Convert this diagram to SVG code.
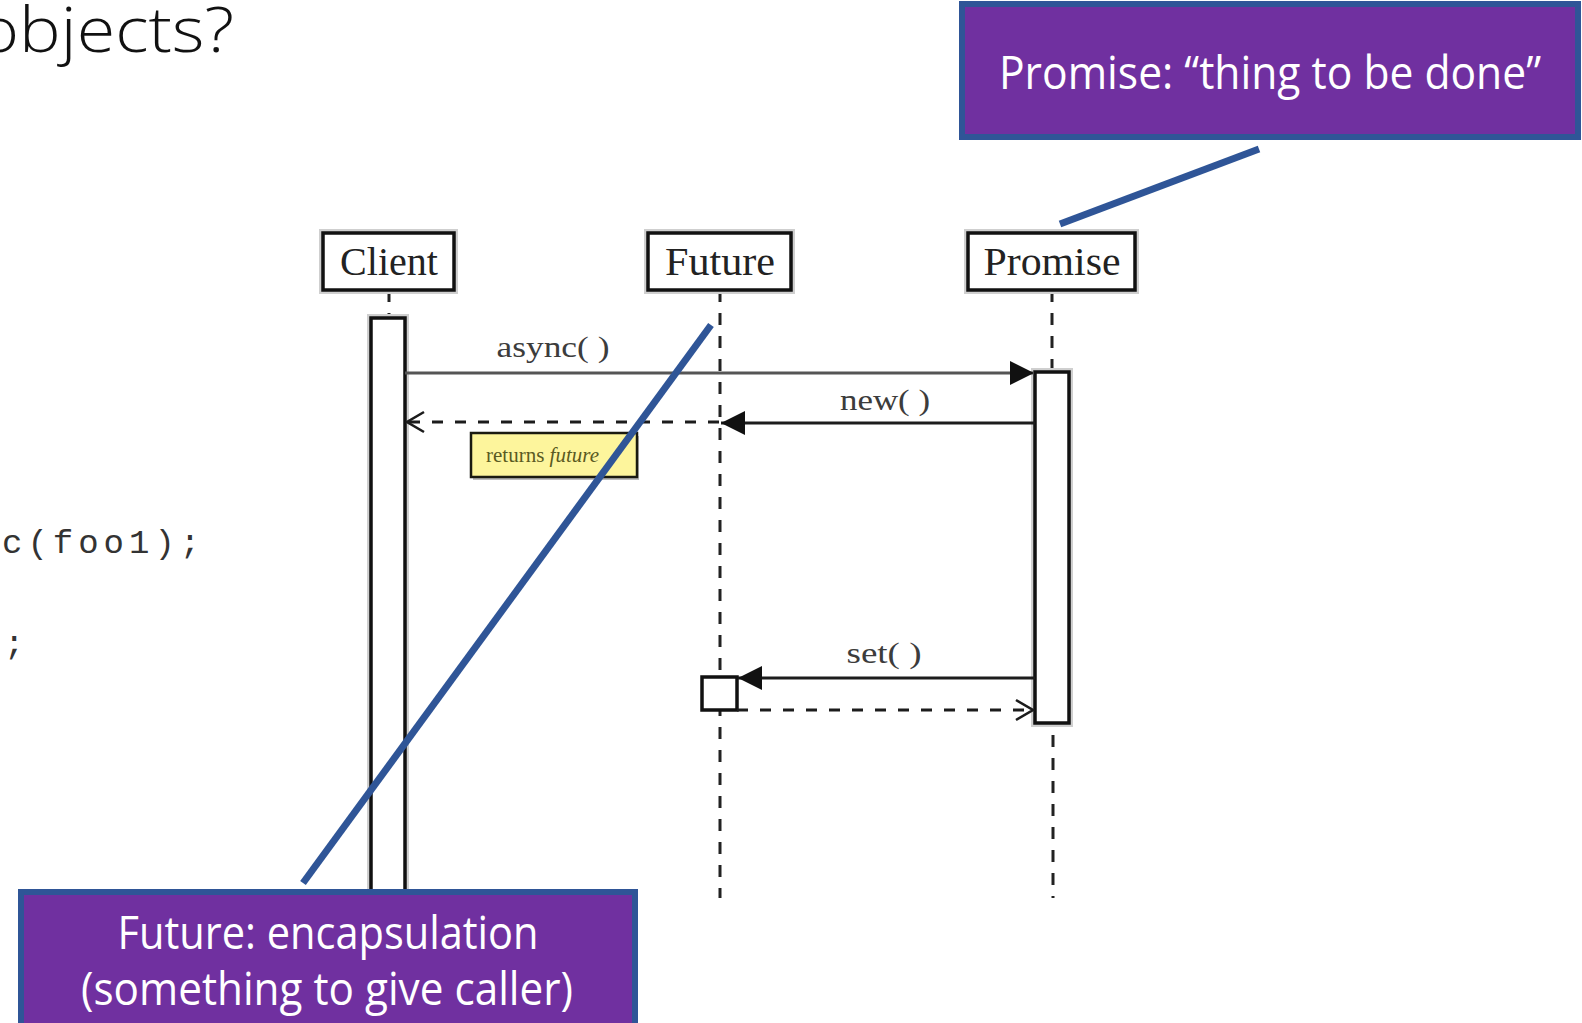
<svg xmlns="http://www.w3.org/2000/svg" width="1582" height="1023" viewBox="0 0 1582 1023">
  <style>
    .halo { fill: none; stroke: #cfcfcf; stroke-width: 8; }
    .box { fill: #ffffff; stroke: #111111; stroke-width: 3.5; }
    .hdr { font-family: "Liberation Serif", "DejaVu Serif", serif; font-size: 40px; fill: #222222; }
    .life { fill: none; stroke: #222222; stroke-width: 3; stroke-dasharray: 12 11; }
    .msg { fill: none; stroke: #1c1c1c; stroke-width: 2.8; }
    .msg.call1 { stroke: #555555; stroke-width: 3.2; }
    .ret { fill: none; stroke: #1c1c1c; stroke-width: 2.8; stroke-dasharray: 11 12; }
    .lbl { font-family: "Liberation Serif", "DejaVu Serif", serif; font-size: 30px; fill: #3c3c3c; }
    .callout { fill: #7030A0; stroke: #2F5597; stroke-width: 6; }
    .ctext { font-family: "Open Sans", "Noto Sans", sans-serif; font-size: 46px; fill: #ffffff; }
    .pointer { fill: none; stroke: #2F5597; stroke-width: 7; }
    .code { font-family: "Liberation Mono", "DejaVu Sans Mono", monospace; font-size: 34px; fill: #333333; letter-spacing: 5px; }
  </style>
  <defs>
    <marker id="head" markerUnits="userSpaceOnUse" markerWidth="26" markerHeight="26" refX="24" refY="12" orient="auto" overflow="visible">
      <path d="M0,0 L24,12 L0,24 Z" fill="#111111"/>
    </marker>
    <marker id="open" markerUnits="userSpaceOnUse" markerWidth="20" markerHeight="22" refX="17" refY="10" orient="auto" overflow="visible">
      <path d="M0,0 L17,10 L0,20" fill="none" stroke="#1c1c1c" stroke-width="2.6"/>
    </marker>
  </defs>

  <rect width="1582" height="1023" fill="#ffffff"/>

  <!-- slide title, clipped at the left edge -->
  <g id="title">
    <text x="-22" y="52" font-family="Open Sans, Noto Sans, sans-serif" font-weight="300" font-size="62" fill="#111111" textLength="256" lengthAdjust="spacingAndGlyphs">objects?</text>
  </g>

  <!-- code fragment, clipped at the left edge -->
  <g id="code">
    <text class="code" x="2" y="553">c(foo1);</text>
    <text class="code" x="4" y="654">;</text>
  </g>

  <!-- Client participant -->
  <g id="client">
    <path class="life" d="M389,290 V318"/>
    <rect class="halo" x="323" y="233" width="131" height="57"/>
    <rect class="box" x="323" y="233" width="131" height="57"/>
    <text class="hdr" x="389" y="275" text-anchor="middle" textLength="98" lengthAdjust="spacingAndGlyphs">Client</text>
    <rect class="halo" x="371" y="318" width="34" height="600"/>
    <rect class="box" x="371" y="318" width="34" height="600"/>
  </g>

  <!-- Future participant -->
  <g id="future">
    <path class="life" d="M720,290 V898"/>
    <rect class="halo" x="648" y="233" width="143" height="57"/>
    <rect class="box" x="648" y="233" width="143" height="57"/>
    <text class="hdr" x="720" y="275" text-anchor="middle" textLength="110" lengthAdjust="spacingAndGlyphs">Future</text>
    <rect class="box" x="702" y="677" width="35" height="33"/>
  </g>

  <!-- Promise participant -->
  <g id="promise">
    <path class="life" d="M1052,290 V372"/>
    <path class="life" d="M1053,735 V898"/>
    <rect class="halo" x="968" y="233" width="167" height="57"/>
    <rect class="box" x="968" y="233" width="167" height="57"/>
    <text class="hdr" x="1052" y="275" text-anchor="middle" textLength="137" lengthAdjust="spacingAndGlyphs">Promise</text>
    <rect class="halo" x="1035" y="372" width="34" height="351"/>
    <rect class="box" x="1035" y="372" width="34" height="351"/>
  </g>

  <!-- messages -->
  <g id="messages">
    <path class="msg call1" d="M405,373 H1034" marker-end="url(#head)"/>
    <text class="lbl" x="553" y="357" text-anchor="middle" textLength="113" lengthAdjust="spacingAndGlyphs">async( )</text>
    <path class="msg" d="M1035,423 H721" marker-end="url(#head)"/>
    <text class="lbl" x="885" y="410" text-anchor="middle" textLength="90" lengthAdjust="spacingAndGlyphs">new( )</text>
    <path class="ret" d="M719,422 H407" marker-end="url(#open)"/>
    <path class="msg" d="M1035,678 H738" marker-end="url(#head)"/>
    <text class="lbl" x="884" y="663" text-anchor="middle" textLength="75" lengthAdjust="spacingAndGlyphs">set( )</text>
    <path class="ret" d="M737,710 H1033" marker-end="url(#open)"/>
  </g>

  <!-- note on the return -->
  <g id="note">
    <rect x="473" y="436" width="166" height="44" fill="#bdbdbd"/>
    <rect x="471" y="433" width="166" height="44" fill="#fdf59c" stroke="#1a1a10" stroke-width="2.5"/>
    <text x="486" y="462" font-family="Liberation Serif, DejaVu Serif, serif" font-size="21" fill="#5a5a22">returns <tspan font-style="italic">future</tspan></text>
  </g>

  <!-- callout pointers -->
  <g id="pointers">
    <path class="pointer" d="M711,325 L303,883"/>
    <path class="pointer" d="M1259,149 L1060,224"/>
  </g>

  <!-- Promise callout -->
  <g id="callout-promise">
    <rect class="callout" x="962" y="4" width="616" height="133"/>
    <text class="ctext" x="1270" y="89" text-anchor="middle" textLength="542" lengthAdjust="spacingAndGlyphs">Promise: “thing to be done”</text>
  </g>

  <!-- Future callout -->
  <g id="callout-future">
    <rect class="callout" x="21" y="892" width="614" height="140"/>
    <text class="ctext" x="328" y="949" text-anchor="middle" textLength="421" lengthAdjust="spacingAndGlyphs">Future: encapsulation</text>
    <text class="ctext" x="327" y="1005" text-anchor="middle" textLength="492" lengthAdjust="spacingAndGlyphs">(something to give caller)</text>
  </g>
</svg>
